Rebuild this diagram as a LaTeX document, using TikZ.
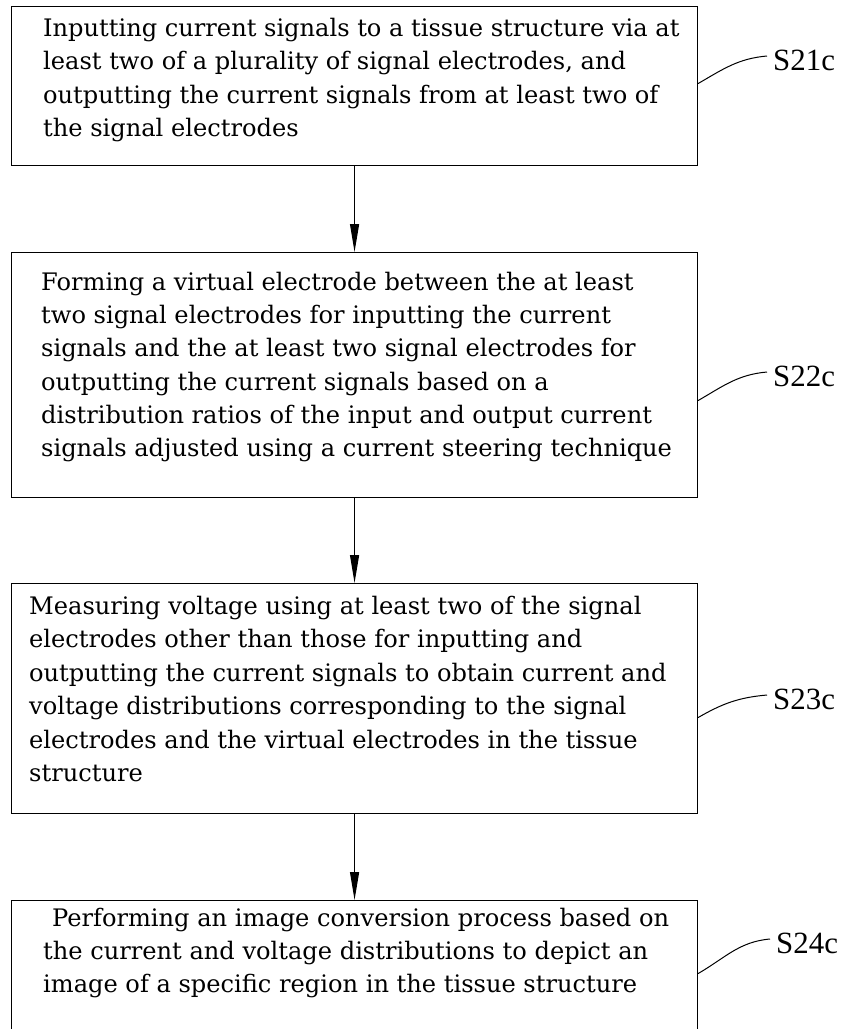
\documentclass[tikz,border=0pt]{standalone}
\usepackage{fontspec}
\setmainfont{DejaVu Serif}
\newfontfamily\labelfont{Liberation Serif}
\usetikzlibrary{arrows.meta}
\begin{document}
\begin{tikzpicture}[x=1bp,y=-1bp,
  stepbox/.style={draw, line width=1.1bp, minimum width=686bp, inner sep=0pt, anchor=north west},
  steptext/.style={anchor=west, align=left, inner sep=0pt, font=\fontsize{24.2}{33.5}\selectfont},
  steplabel/.style={anchor=west, inner sep=0pt, font=\labelfont\fontsize{31}{31}\selectfont},
  flow/.style={-{Triangle[length=28bp,width=9bp]}, line width=1.1bp},
  leader/.style={line width=1bp}]
\useasboundingbox (0,0) rectangle (853,1029);
\clip (0,0) rectangle (853,1029);
% boxes
\node[stepbox, minimum height=159bp] (b1) at (11,6) {};
\node[stepbox, minimum height=245bp] (b2) at (11,252) {};
\node[stepbox, minimum height=230bp] (b3) at (11,583) {};
\node[stepbox, minimum height=160bp] (b4) at (11,900) {};
% texts
\node[steptext] (t1) at (43,80) {Inputting current signals to a tissue structure via at\\least two of a plurality of signal electrodes, and\\outputting the current signals from at least two of\\the signal electrodes};
\node[steptext] (t2) at (41,367) {Forming a virtual electrode between the at least\\two signal electrodes for inputting the current\\signals and the at least two signal electrodes for\\outputting the current signals based on a\\distribution ratios of the input and output current\\signals adjusted using a current steering technique};
\node[steptext] (t3) at (29,689) {Measuring voltage using at least two of the signal\\electrodes other than those for inputting and\\outputting the current signals to obtain current and\\voltage distributions corresponding to the signal\\electrodes and the virtual electrodes in the tissue\\structure};
\node[steptext] (t4) at (43,953) {\hspace*{9bp}Performing an image conversion process based on\\the current and voltage distributions to depict an\\image of a specific region in the tissue structure};
% labels
\node[steplabel] (l1) at (773,60) {S21c};
\node[steplabel] (l2) at (773,376) {S22c};
\node[steplabel] (l3) at (773,699) {S23c};
\node[steplabel] (l4) at (776,943) {S24c};
% flow arrows
\draw[flow] (b1.south) -- (b2.north);
\draw[flow] (b2.south) -- (b3.north);
\draw[flow] (b3.south) -- (b4.north);
% leaders
\draw[leader] ([yshift=2.5bp]b1.east) to[out=30,in=185] ([xshift=-6bp,yshift=4bp]l1.west);
\draw[leader] ([yshift=-25.5bp]b2.east) to[out=30,in=185] ([xshift=-6bp,yshift=4bp]l2.west);
\draw[leader] ([yshift=-19bp]b3.east) to[out=30,in=185] ([xshift=-6bp,yshift=4bp]l3.west);
\draw[leader] ([yshift=7bp]b4.east) to[out=30,in=185] ([xshift=-6bp,yshift=4bp]l4.west);
\end{tikzpicture}
\end{document}
